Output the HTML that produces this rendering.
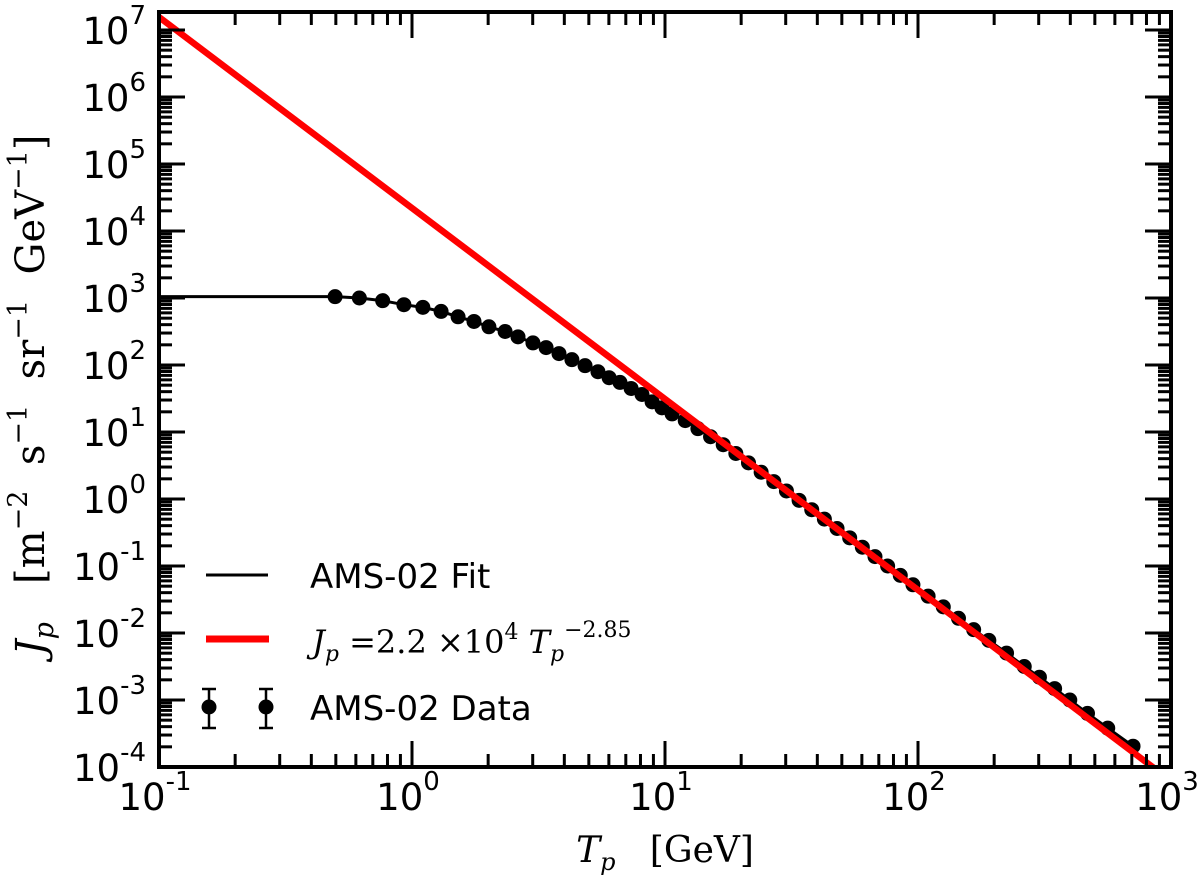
<!DOCTYPE html>
<html><head><meta charset="utf-8"><style>
html,body{margin:0;padding:0;background:#fff;}
svg{display:block;}
text{font-family:"DejaVu Sans","Liberation Sans",sans-serif;fill:#000;}
.serif{font-family:"DejaVu Serif","Liberation Serif",serif;}
</style></head><body>
<svg id="chart" width="1200" height="883" viewBox="0 0 1200 883" xmlns="http://www.w3.org/2000/svg">
<defs><clipPath id="clip"><rect x="159" y="12" width="1012" height="755"/></clipPath></defs>
<g id="marks" clip-path="url(#clip)"></g>
<g id="axes"></g>
<g id="legend">
  <line x1="206" y1="575" x2="268" y2="575" stroke="#000" stroke-width="3"/>
  <text x="310" y="588" font-size="34">AMS-02 Fit</text>
  <line x1="206" y1="639" x2="269" y2="639" stroke="#f00" stroke-width="7"/>
  <text class="serif" x="312" y="653" font-size="32"><tspan font-style="italic">J</tspan><tspan font-style="italic" font-size="22" dy="8">p</tspan><tspan dy="-8"> =2.2 ×10</tspan><tspan font-size="22" dy="-14">4</tspan><tspan dy="14" font-style="italic"> T</tspan><tspan font-style="italic" font-size="22" dy="8">p</tspan><tspan font-size="22" dy="-24">−2.85</tspan></text>
  <g stroke="#000" stroke-width="2.5">
    <line x1="209" y1="689" x2="209" y2="728"/><line x1="202" y1="689" x2="216" y2="689"/><line x1="202" y1="728" x2="216" y2="728"/>
    <line x1="266" y1="689" x2="266" y2="728"/><line x1="259" y1="689" x2="273" y2="689"/><line x1="259" y1="728" x2="273" y2="728"/>
    <circle cx="209" cy="707" r="7.5" fill="#000" stroke="none"/><circle cx="266" cy="707" r="7.5" fill="#000" stroke="none"/>
  </g>
  <text x="310" y="720" font-size="34">AMS-02 Data</text>
</g>
<text class="serif" x="665" y="862" font-size="36" text-anchor="middle"><tspan font-style="italic">T</tspan><tspan font-style="italic" font-size="24" dy="8">p</tspan><tspan dy="-8" xml:space="preserve">   [GeV]</tspan></text>
<text class="serif" transform="translate(44,395) rotate(-90)" font-size="40" text-anchor="middle" xml:space="preserve"><tspan font-style="italic">J</tspan><tspan font-style="italic" font-size="27" dy="9">p</tspan><tspan dy="-9">   [m</tspan><tspan font-size="27" dy="-17">−2</tspan><tspan dy="17">  s</tspan><tspan font-size="27" dy="-17">−1</tspan><tspan dy="17">  sr</tspan><tspan font-size="27" dy="-17">−1</tspan><tspan dy="17">  GeV</tspan><tspan font-size="27" dy="-17">−1</tspan><tspan dy="17">]</tspan></text>
</svg>
<script>
// Data (log10 values)
const dataLogT = [-0.304,-0.208,-0.116,-0.032,0.043,0.115,0.182,0.245,0.304,0.368,0.419,0.478,0.530,0.581,0.632,0.684,0.735,0.779,0.822,0.866,0.909,0.949,0.988,1.028,1.08,1.13,1.18,1.23,1.28,1.33,1.38,1.43,1.48,1.53,1.58,1.63,1.68,1.73,1.78,1.83,1.88,1.93,1.98,2.04,2.10,2.16,2.22,2.28,2.35,2.42,2.48,2.54,2.60,2.67,2.75,2.85];
const dataLogJ = [3.02,3.00,2.96,2.90,2.86,2.80,2.72,2.65,2.57,2.50,2.42,2.33,2.26,2.17,2.08,1.99,1.90,1.81,1.74,1.65,1.56,1.45,1.36,1.27,1.17,1.05,0.93,0.81,0.68,0.54,0.40,0.26,0.12,-0.02,-0.16,-0.30,-0.44,-0.58,-0.72,-0.86,-1.00,-1.14,-1.28,-1.45,-1.61,-1.78,-1.95,-2.11,-2.30,-2.50,-2.66,-2.83,-3.00,-3.20,-3.42,-3.69];
const fitFlatLogT = [-1.0,-0.304];
const fitFlatLogJ = [3.02,3.02];
const powerNorm = 2.2e4;
const powerIndex = -2.85;
const xTickExps = [-1,0,1,2,3];
const yTickExps = [-4,-3,-2,-1,0,1,2,3,4,5,6,7];

const NS="http://www.w3.org/2000/svg";
const X0=159, X1=1171, LX0=-1, LX1=3;
const YB=767, DEC=67, LYB=-4;
function xs(l){return X0+(l-LX0)*(X1-X0)/(LX1-LX0);}
function ys(l){return YB-(l-LYB)*DEC;}
function mk(tag,attrs,parent){const e=document.createElementNS(NS,tag);for(const k in attrs)e.setAttribute(k,attrs[k]);parent.appendChild(e);return e;}
const marks=document.getElementById('marks'), axes=document.getElementById('axes');

let pts=[];
for(let i=0;i<fitFlatLogT.length;i++)pts.push(xs(fitFlatLogT[i])+','+ys(fitFlatLogJ[i]));
for(let i=0;i<dataLogT.length;i++)pts.push(xs(dataLogT[i])+','+ys(dataLogJ[i]));
const fit=mk('polyline',{points:pts.join(' '),fill:'none',stroke:'#000','stroke-width':3},marks);



for(let i=0;i<dataLogT.length;i++){
  const c=mk('circle',{cx:xs(dataLogT[i]),cy:ys(dataLogJ[i]),r:7.5,fill:'#000'},marks);
  
  
}
const lp=Math.log10(powerNorm);
const red=mk('line',{x1:xs(LX0),y1:ys(lp+powerIndex*LX0),x2:xs(LX1),y2:ys(lp+powerIndex*LX1),stroke:'#f00','stroke-width':6.5},marks);



const fr=mk('rect',{x:X0,y:12,width:X1-X0,height:YB-12,fill:'none',stroke:'#000','stroke-width':4},axes);


function tick(x1,y1,x2,y2){mk('line',{x1:x1,y1:y1,x2:x2,y2:y2,stroke:'#000','stroke-width':3},axes);}
for(let d=LX0;d<LX1;d++){
  for(let m=1;m<10;m++){
    const x=xs(d+Math.log10(m)); const L=m==1?26:13;
    if(m==1&&d==LX0)continue;
    tick(x,YB,x,YB-L); tick(x,12,x,12+L);
  }
}
xTickExps.forEach(e=>{
  const t=mk('text',{x:xs(e)-4,y:810,'font-size':37,'text-anchor':'middle'},axes);
  
  
  t.innerHTML='10<tspan font-size="26" dy="-20">'+(e<0?'-'+(-e):e)+'</tspan>';
});
for(let d=LYB;d<8;d++){
  for(let m=1;m<10;m++){
    const l=d+Math.log10(m); const y=ys(l); if(y<14||y>YB-1)continue;
    const L=m==1?26:13;
    tick(X0,y,X0+L,y); tick(X1,y,X1-L,y);
  }
}
yTickExps.forEach(e=>{
  const t=mk('text',{x:146,y:ys(e)+14,'font-size':37,'text-anchor':'end'},axes);
  
  
  t.innerHTML='10<tspan font-size="26" dy="-20">'+(e<0?'-'+(-e):e)+'</tspan>';
});
</script>
</body></html>
